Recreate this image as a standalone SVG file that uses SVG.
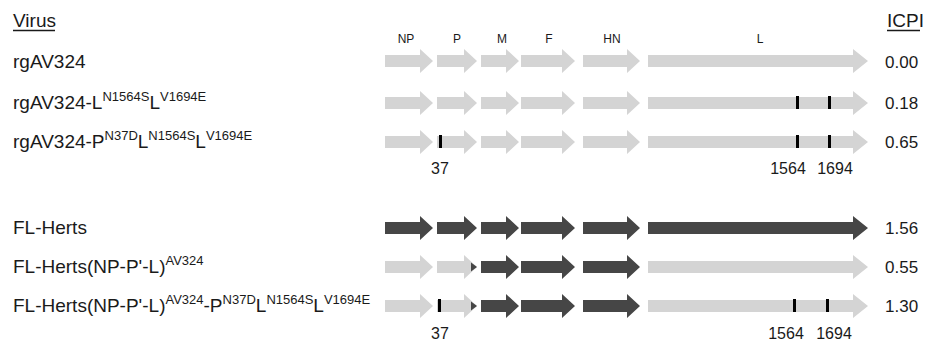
<svg xmlns="http://www.w3.org/2000/svg" width="928" height="342" viewBox="0 0 928 342">
<style>
text{font-family:"Liberation Sans",Arial,sans-serif;fill:#1a1a1a}
.lbl{font-size:19px}
.sup{font-size:13px}
.gene{font-size:12px;text-anchor:middle}
.pos{font-size:16px;text-anchor:middle}
.icpi{font-size:17px}
.lt{fill:#d4d4d4}
.dk{fill:#464646}
.mk{fill:#000}
.ul{stroke:#1a1a1a;stroke-width:1.3}
</style>
<rect width="928" height="342" fill="#fff"/>
<g id="headers">
<text class="lbl" x="13" y="27">Virus</text>
<line class="ul" x1="13" y1="30.5" x2="55" y2="30.5"/>
<text class="lbl" x="887" y="27">ICPI</text>
<line class="ul" x1="887" y1="30.5" x2="920" y2="30.5"/>
<text class="gene" x="406" y="43">NP</text>
<text class="gene" x="457" y="43">P</text>
<text class="gene" x="502" y="43">M</text>
<text class="gene" x="549" y="43">F</text>
<text class="gene" x="612" y="43">HN</text>
<text class="gene" x="760" y="43">L</text>
</g>
<g id="connectors"></g>
<g id="row-rgAV324">
<text class="lbl" x="13" y="68">rgAV324</text>
<g transform="translate(0,61)">
<polygon class="lt" points="385,-6 420,-6 420,-12 433,0 420,12 420,6 385,6"/>
<polygon class="lt" points="437,-6 464,-6 464,-12 477,0 464,12 464,6 437,6"/>
<polygon class="lt" points="481,-6 506,-6 506,-12 519,0 506,12 506,6 481,6"/>
<polygon class="lt" points="521,-6 562,-6 562,-12 575,0 562,12 562,6 521,6"/>
<polygon class="lt" points="583,-6 627,-6 627,-12 640,0 627,12 627,6 583,6"/>
<polygon class="lt" points="648,-6 853,-6 853,-12 868,0 853,12 853,6 648,6"/>
</g>
<text class="icpi" x="885" y="68">0.00</text>
</g>
<g id="row-rgAV324-L">
<text class="lbl" x="13" y="109">rgAV324-L<tspan class="sup" dy="-8">N1564S</tspan><tspan dy="8">L</tspan><tspan class="sup" dy="-8">V1694E</tspan></text>
<g transform="translate(0,103)">
<polygon class="lt" points="385,-6 420,-6 420,-12 433,0 420,12 420,6 385,6"/>
<polygon class="lt" points="437,-6 464,-6 464,-12 477,0 464,12 464,6 437,6"/>
<polygon class="lt" points="481,-6 506,-6 506,-12 519,0 506,12 506,6 481,6"/>
<polygon class="lt" points="521,-6 562,-6 562,-12 575,0 562,12 562,6 521,6"/>
<polygon class="lt" points="583,-6 627,-6 627,-12 640,0 627,12 627,6 583,6"/>
<polygon class="lt" points="648,-6 853,-6 853,-12 868,0 853,12 853,6 648,6"/>
<rect class="mk" x="796" y="-7" width="3" height="13"/>
<rect class="mk" x="828" y="-7" width="3" height="13"/>
</g>
<text class="icpi" x="885" y="109">0.18</text>
</g>
<g id="row-rgAV324-P-L">
<text class="lbl" x="13" y="148">rgAV324-P<tspan class="sup" dy="-8">N37D</tspan><tspan dy="8">L</tspan><tspan class="sup" dy="-8">N1564S</tspan><tspan dy="8">L</tspan><tspan class="sup" dy="-8">V1694E</tspan></text>
<g transform="translate(0,142)">
<polygon class="lt" points="385,-6 420,-6 420,-12 433,0 420,12 420,6 385,6"/>
<polygon class="lt" points="437,-6 464,-6 464,-12 477,0 464,12 464,6 437,6"/>
<polygon class="lt" points="481,-6 506,-6 506,-12 519,0 506,12 506,6 481,6"/>
<polygon class="lt" points="521,-6 562,-6 562,-12 575,0 562,12 562,6 521,6"/>
<polygon class="lt" points="583,-6 627,-6 627,-12 640,0 627,12 627,6 583,6"/>
<polygon class="lt" points="648,-6 853,-6 853,-12 868,0 853,12 853,6 648,6"/>
<rect class="mk" x="439" y="-7" width="3" height="13"/>
<rect class="mk" x="796" y="-7" width="3" height="13"/>
<rect class="mk" x="828" y="-7" width="3" height="13"/>
</g>
<text class="icpi" x="885" y="148">0.65</text>
<text class="pos" x="440" y="174">37</text>
<text class="pos" x="788" y="174">1564</text>
<text class="pos" x="835" y="174">1694</text>
</g>
<g id="row-FL-Herts">
<text class="lbl" x="13" y="234">FL-Herts</text>
<g transform="translate(0,228)">
<polygon class="dk" points="385,-6 420,-6 420,-12 433,0 420,12 420,6 385,6"/>
<polygon class="dk" points="437,-6 464,-6 464,-12 477,0 464,12 464,6 437,6"/>
<polygon class="dk" points="481,-6 506,-6 506,-12 519,0 506,12 506,6 481,6"/>
<polygon class="dk" points="521,-6 562,-6 562,-12 575,0 562,12 562,6 521,6"/>
<polygon class="dk" points="583,-6 627,-6 627,-12 640,0 627,12 627,6 583,6"/>
<polygon class="dk" points="648,-6 853,-6 853,-12 868,0 853,12 853,6 648,6"/>
</g>
<text class="icpi" x="885" y="234">1.56</text>
</g>
<g id="row-FL-Herts-AV324">
<text class="lbl" x="13" y="273">FL-Herts(NP-P'-L)<tspan class="sup" dy="-8">AV324</tspan></text>
<g transform="translate(0,267)">
<polygon class="lt" points="385,-6 420,-6 420,-12 433,0 420,12 420,6 385,6"/>
<polygon class="lt" points="437,-6 464,-6 464,-12 477,0 464,12 464,6 437,6"/>
<polygon class="dk" points="471,-4.5 477,0 471,4.5"/>
<polygon class="dk" points="481,-6 506,-6 506,-12 519,0 506,12 506,6 481,6"/>
<polygon class="dk" points="521,-6 562,-6 562,-12 575,0 562,12 562,6 521,6"/>
<polygon class="dk" points="583,-6 627,-6 627,-12 640,0 627,12 627,6 583,6"/>
<polygon class="lt" points="648,-6 853,-6 853,-12 868,0 853,12 853,6 648,6"/>
</g>
<text class="icpi" x="885" y="273">0.55</text>
</g>
<g id="row-FL-Herts-AV324-P-L">
<text class="lbl" x="13" y="312">FL-Herts(NP-P'-L)<tspan class="sup" dy="-8">AV324</tspan><tspan dy="8">-P</tspan><tspan class="sup" dy="-8">N37D</tspan><tspan dy="8">L</tspan><tspan class="sup" dy="-8">N1564S</tspan><tspan dy="8">L</tspan><tspan class="sup" dy="-8">V1694E</tspan></text>
<g transform="translate(0,306)">
<polygon class="lt" points="385,-6 420,-6 420,-12 433,0 420,12 420,6 385,6"/>
<polygon class="lt" points="437,-6 464,-6 464,-12 477,0 464,12 464,6 437,6"/>
<polygon class="dk" points="471,-4.5 477,0 471,4.5"/>
<polygon class="dk" points="481,-6 506,-6 506,-12 519,0 506,12 506,6 481,6"/>
<polygon class="dk" points="521,-6 562,-6 562,-12 575,0 562,12 562,6 521,6"/>
<polygon class="dk" points="583,-6 627,-6 627,-12 640,0 627,12 627,6 583,6"/>
<polygon class="lt" points="648,-6 853,-6 853,-12 868,0 853,12 853,6 648,6"/>
<rect class="mk" x="438" y="-7" width="3" height="13"/>
<rect class="mk" x="793" y="-7" width="3" height="13"/>
<rect class="mk" x="826" y="-7" width="3" height="13"/>
</g>
<text class="icpi" x="885" y="312">1.30</text>
<text class="pos" x="440" y="339">37</text>
<text class="pos" x="786" y="339">1564</text>
<text class="pos" x="834" y="339">1694</text>
</g>
</svg>
